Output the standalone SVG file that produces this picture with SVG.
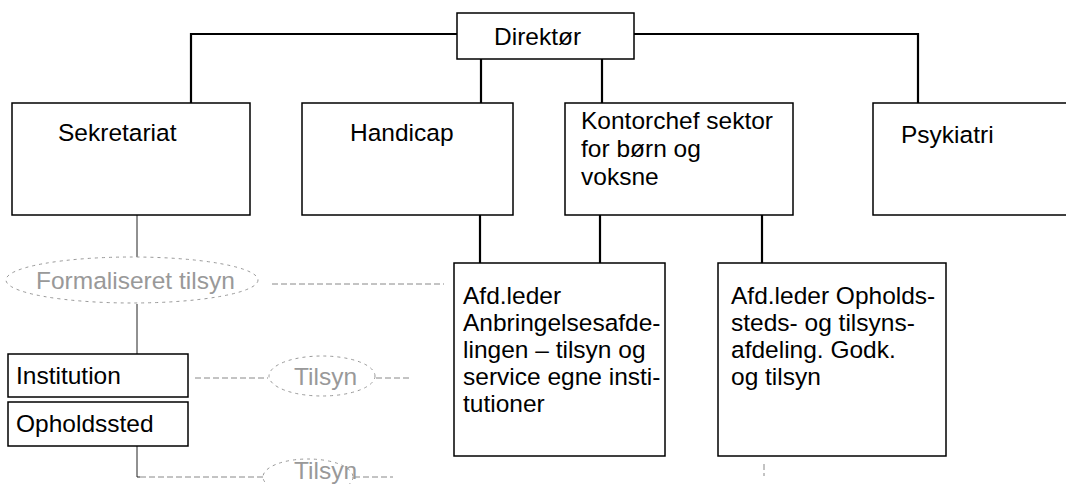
<svg xmlns="http://www.w3.org/2000/svg" width="1066" height="484" viewBox="0 0 1066 484">
<style>
text{font-family:"Liberation Sans",Arial,sans-serif;font-size:24.5px;fill:#000}
.box{fill:#fff;stroke:#000;stroke-width:1.5}
.c{fill:none;stroke:#000;stroke-width:2.2}
.thin{fill:none;stroke:#222;stroke-width:1}
.faint{fill:none;stroke:#888;stroke-width:1;stroke-dasharray:6 3}
.ell{fill:none;stroke:#999;stroke-width:1;stroke-dasharray:3 4}
.gt{fill:#999}
</style>
<rect width="1066" height="484" fill="#fff"/>
<g id="connectors">
<polyline class="c" points="457,34 191,34 191,103"/>
<polyline class="c" points="634,34 918,34 918,103"/>
<line class="c" x1="481" y1="59" x2="481" y2="103"/>
<line class="c" x1="602" y1="59" x2="602" y2="103"/>
<line class="c" x1="480" y1="215" x2="480" y2="263"/>
<line class="c" x1="600" y1="215" x2="600" y2="263"/>
<line class="c" x1="762" y1="215" x2="762" y2="263"/>
<line class="thin" x1="137" y1="215" x2="137" y2="257"/>
<line class="thin" x1="137" y1="304" x2="137" y2="354"/>
<line class="faint" x1="272" y1="284" x2="444" y2="284"/>
<line class="faint" x1="195" y1="378" x2="268" y2="378"/>
<line class="faint" x1="376" y1="378" x2="410" y2="378"/>
<polyline class="thin" points="137,446 137,477 140,477"/>
<line class="faint" x1="140" y1="477" x2="263" y2="477"/>
<line class="faint" x1="354" y1="477" x2="393" y2="477"/>
<line class="faint" x1="764" y1="464" x2="764" y2="476"/>
</g>
<g id="direktor">
<rect class="box" x="457" y="13" width="177" height="46"/>
<text x="494" y="45">Direktør</text>
</g>
<g id="sekretariat">
<rect class="box" x="12" y="103" width="238" height="112"/>
<text x="58" y="141">Sekretariat</text>
</g>
<g id="handicap">
<rect class="box" x="302" y="103" width="211" height="112"/>
<text x="350" y="141">Handicap</text>
</g>
<g id="kontorchef">
<rect class="box" x="565" y="103" width="228" height="112"/>
<text x="581" y="129">Kontorchef sektor</text>
<text x="581" y="157">for børn og</text>
<text x="581" y="185">voksne</text>
</g>
<g id="psykiatri">
<rect class="box" x="873" y="103" width="200" height="112"/>
<text x="901" y="143">Psykiatri</text>
</g>
<g id="afd-anbringelse">
<rect class="box" x="454" y="263" width="211" height="193"/>
<text x="463" y="304">Afd.leder</text>
<text x="463" y="331">Anbringelsesafde-</text>
<text x="463" y="358">lingen – tilsyn og</text>
<text x="463" y="385">service egne insti-</text>
<text x="463" y="412">tutioner</text>
</g>
<g id="afd-opholdssted">
<rect class="box" x="718" y="263" width="228" height="193"/>
<text x="731" y="304">Afd.leder  Opholds-</text>
<text x="731" y="331">steds- og tilsyns-</text>
<text x="731" y="358">afdeling. Godk.</text>
<text x="731" y="385">og tilsyn</text>
</g>
<g id="formaliseret-tilsyn">
<ellipse class="ell" cx="132" cy="280" rx="126" ry="23"/>
<text class="gt" x="36" y="289">Formaliseret tilsyn</text>
</g>
<g id="institution">
<rect class="box" x="8" y="354" width="180" height="43"/>
<text x="16" y="384">Institution</text>
</g>
<g id="opholdssted">
<rect class="box" x="8" y="402" width="180" height="44"/>
<text x="16" y="432">Opholdssted</text>
</g>
<g id="tilsyn-1">
<ellipse class="ell" cx="322" cy="376" rx="53" ry="20"/>
<text class="gt" x="294" y="385">Tilsyn</text>
</g>
<g id="tilsyn-2">
<ellipse class="ell" cx="308" cy="477" rx="45" ry="18"/>
<text class="gt" x="294" y="479">Tilsyn</text>
</g>
</svg>
